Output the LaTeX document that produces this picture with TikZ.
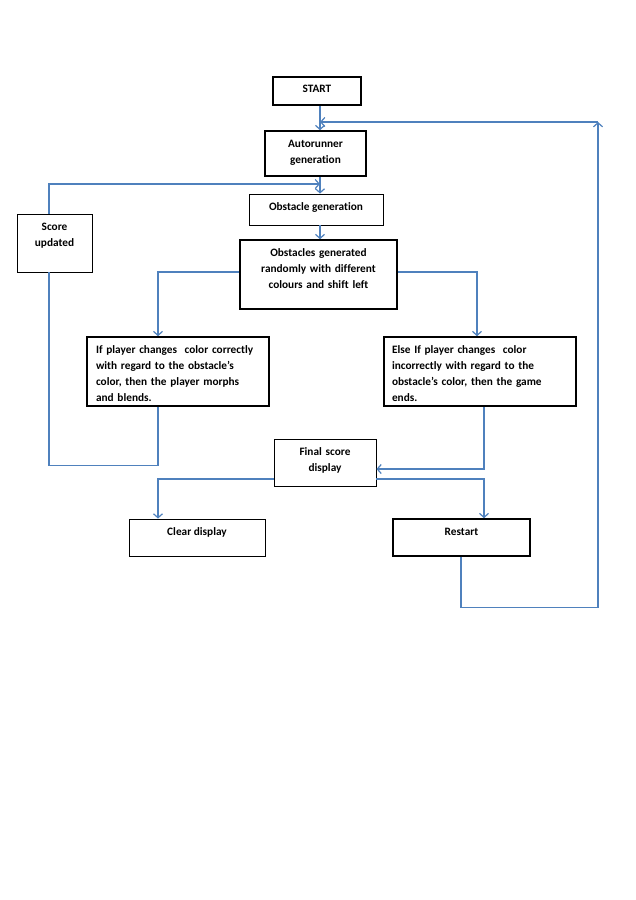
\documentclass[tikz,border=0pt]{standalone}
\usepackage{fontspec}
\setmainfont{Carlito}[Ligatures=NoCommon]
\usetikzlibrary{arrows.meta}
\definecolor{conn}{HTML}{4F81BD}
\tikzset{
  boxthick/.style={draw=black, line width=1.6pt, inner sep=0pt},
  boxthin/.style={draw=black, line width=0.9pt, inner sep=0pt},
  txt/.style={inner sep=0pt, font=\fontsize{11.3pt}{16.2pt}\selectfont\bfseries, anchor=base},
  arr/.style={draw=conn, line width=1.2pt, -{Straight Barb[length=4pt,width=9pt]}},
  ln/.style={draw=conn, line width=1.2pt},
}
\begin{document}
\begin{tikzpicture}[x=1pt,y=-1pt]
\useasboundingbox (0,0) rectangle (636,900);
\fill[white] (0,0) rectangle (636,900);
% guide coordinates
\coordinate (spine) at (320,0);
\coordinate (lx) at (158,0);
\coordinate (rx) at (477,0);
\coordinate (sx) at (49,0);
\coordinate (ex) at (484,0);
\coordinate (j0) at (320,122);
\coordinate (j1) at (320,184);
\coordinate (cr) at (598,122);
% boxes
\node[boxthick, minimum width=88pt, minimum height=28pt] (start) at (317,91) {};
\node[boxthick, minimum width=101pt, minimum height=45pt] (auto) at (315.5,153.5) {};
\node[boxthin, minimum width=134pt, minimum height=31pt] (obsgen) at (316,209.5) {};
\node[boxthick, minimum width=157pt, minimum height=69pt] (obsrand) at (318.5,274.5) {};
\node[boxthin, minimum width=75pt, minimum height=58pt] (score) at (54.5,243) {};
\node[boxthick, minimum width=182pt, minimum height=69pt] (ifbox) at (178,371.5) {};
\node[boxthick, minimum width=192pt, minimum height=69pt] (elsebox) at (480,371.5) {};
\node[boxthin, minimum width=102pt, minimum height=47pt] (final) at (325,462.5) {};
\node[boxthin, minimum width=136pt, minimum height=37pt] (clear) at (197,537.5) {};
\node[boxthick, minimum width=137pt, minimum height=37pt] (restart) at (461.5,537.5) {};
% texts
\node[txt] (t1) at (317,92) {START};
\node[txt, text width=100pt, align=center] (t2) at (315.5,147) {Autorunner\\generation};
\node[txt] (t3) at (316,210) {Obstacle generation};
\node[txt, text width=75pt, align=center] (t4) at (54.5,230) {Score\\updated};
\node[txt, text width=157pt, align=center] (t5) at (318.5,256) {Obstacles generated\\randomly with different\\colours and shift left};
\node[txt, text width=170pt, align=left] (t6) at (181,353) {If player changes\ \ color correctly\\with regard to the obstacle’s\\color, then the player morphs\\and blends.};
\node[txt, text width=180pt, align=left] (t7) at (482,353) {Else If player changes\ \ color\\incorrectly with regard to the\\obstacle’s color, then the game\\ends.};
\node[txt, text width=100pt, align=center] (t8) at (325,455) {Final score\\display};
\node[txt] (t9) at (197,535) {Clear display};
\node[txt] (t10) at (461.5,535) {Restart};
% connectors
\draw[arr] (start.south -| spine) -- (auto.north -| spine);
\draw[arr] (auto.south -| spine) -- (obsgen.north -| spine);
\draw[arr] (obsgen.south -| spine) -- (obsrand.north -| spine);
\draw[arr] ([yshift=2.5pt]obsrand.west) -| (ifbox.north -| lx);
\draw[arr] ([yshift=2.5pt]obsrand.east) -| (elsebox.north -| rx);
\draw[ln] (ifbox.south -| lx) -- ++(0,59) -| (score.south -| sx);
\draw[arr] (score.north -| sx) |- (j1);
\draw[arr] (elsebox.south -| ex) |- ([yshift=-6.5pt]final.east);
\draw[arr] ([yshift=-16.5pt]final.west) -| (clear.north -| lx);
\draw[arr] ([yshift=-16.5pt]final.east) -| (restart.north -| ex);
\draw[arr] ([xshift=-0.5pt]restart.south) -- ++(0,51) -| (cr);
\draw[arr] (cr) -- (j0);
\end{tikzpicture}
\end{document}
